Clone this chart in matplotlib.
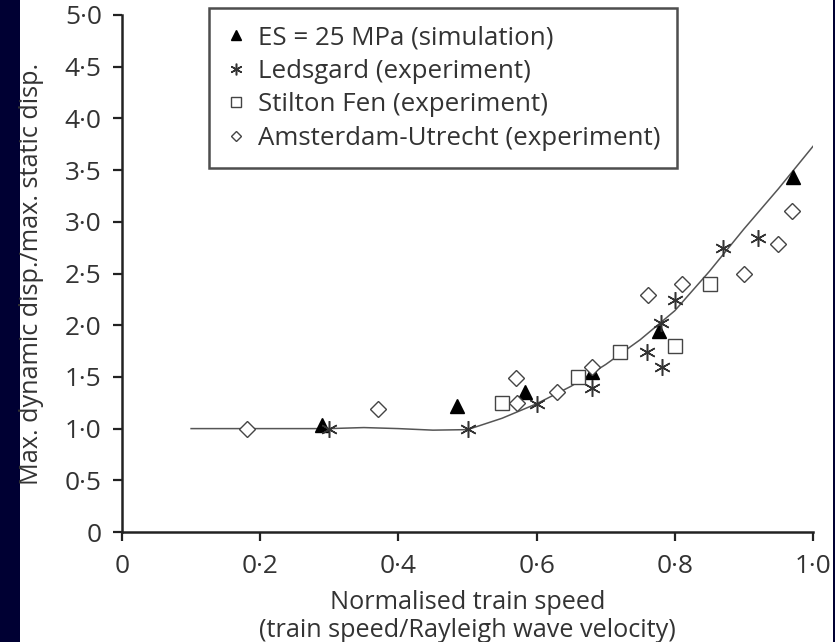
import matplotlib
matplotlib.use("Agg")
import matplotlib.pyplot as plt
from matplotlib.patches import Rectangle

# ── Data ────────────────────────────────────────────────────
sim_x = [0.29, 0.485, 0.583, 0.68, 0.777, 0.971]
sim_y = [1.03, 1.22, 1.35, 1.55, 1.94, 3.43]

led_x = [0.30, 0.50, 0.60, 0.68, 0.76, 0.781, 0.78, 0.80, 0.87, 0.92]
led_y = [1.00, 1.00, 1.24, 1.39, 1.74, 1.60, 2.02, 2.24, 2.75, 2.84]

stil_x = [0.55, 0.66, 0.72, 0.80, 0.851]
stil_y = [1.25, 1.50, 1.74, 1.80, 2.40]

ams_x = [0.181, 0.371, 0.570, 0.571, 0.63, 0.68, 0.761, 0.81, 0.90, 0.95, 0.97]
ams_y = [1.00, 1.19, 1.49, 1.25, 1.35, 1.60, 2.29, 2.40, 2.50, 2.79, 3.10]

curve_x = [0.10, 0.20, 0.30, 0.35, 0.40, 0.45, 0.50, 0.55, 0.60, 0.65,
           0.70, 0.75, 0.80, 0.85, 0.90, 0.95, 1.00]
curve_y = [1.00, 1.00, 1.00, 1.01, 1.00, 0.985, 0.99, 1.10, 1.24, 1.41,
           1.62, 1.86, 2.14, 2.52, 2.93, 3.32, 3.73]

xticks = [0, 0.2, 0.4, 0.6, 0.8, 1.0]
xtick_labels = ["0", "0·2", "0·4", "0·6", "0·8", "1·0"]
yticks = [0, 0.5, 1.0, 1.5, 2.0, 2.5, 3.0, 3.5, 4.0, 4.5, 5.0]
ytick_labels = ["0", "0·5", "1·0", "1·5", "2·0", "2·5", "3·0", "3·5",
                "4·0", "4·5", "5·0"]

# ── Style ───────────────────────────────────────────────────
NAVY = "#000033"
TXT = "#333333"
EDGE = "#222222"
plt.rcParams["font.family"] = ["Open Sans", "DejaVu Sans"]

fig = plt.figure(figsize=(8.35, 6.42), dpi=100)
fig.patch.set_facecolor("white")
# slide background strips at the edges
fig.patches.append(Rectangle((0, 0), 20 / 835, 1, transform=fig.transFigure,
                             facecolor=NAVY, edgecolor="none", zorder=-5))
fig.patches.append(Rectangle((833 / 835, 0), 2 / 835, 1, transform=fig.transFigure,
                             facecolor=NAVY, edgecolor="none", zorder=-5))

ax = fig.add_axes([122 / 835, 1 - 532 / 642, 691 / 835, 517 / 642])
ax.set_xlim(0, 1.0)
ax.set_ylim(0, 5.0)

ax.plot(curve_x, curve_y, color="#555555", lw=1.1, zorder=2)
ax.plot(sim_x, sim_y, ls="none", marker="^", ms=10, color="black",
        label="ES = 25 MPa (simulation)", zorder=3)
ax.plot(led_x, led_y, ls="none", marker=(6, 2, 0), ms=12, mew=1.1,
        color="#333333", label="Ledsgard (experiment)", zorder=3)
ax.plot(stil_x, stil_y, ls="none", marker="s", ms=9.6, mew=1.0,
        mfc="white", mec="#444444", label="Stilton Fen (experiment)", zorder=3)
ax.plot(ams_x, ams_y, ls="none", marker="D", ms=8, mew=1.0,
        mfc="white", mec="#444444", label="Amsterdam-Utrecht (experiment)", zorder=3)

for s in ["top", "right"]:
    ax.spines[s].set_visible(False)
for s in ["left", "bottom"]:
    ax.spines[s].set_linewidth(1.8)
    ax.spines[s].set_color(EDGE)

ax.set_xticks(xticks)
ax.set_xticklabels(xtick_labels)
ax.set_yticks(yticks)
ax.set_yticklabels(ytick_labels)
ax.tick_params(direction="out", length=6.5, width=1.6, color=EDGE,
               labelsize=18.9, labelcolor=TXT)
ax.tick_params(axis="x", pad=9)
ax.tick_params(axis="y", pad=8)

ax.set_xlabel("Normalised train speed\n(train speed/Rayleigh wave velocity)",
              fontsize=18.2, color=TXT, linespacing=1.15)
ax.xaxis.set_label_coords(0.5, -0.112)
fig.text(32 / 835, 1 - 274 / 642, "Max. dynamic disp./max. static disp.",
         rotation=90, ha="center", va="center", fontsize=18.2, color=TXT)

leg = ax.legend(loc="upper left", bbox_to_anchor=(0.126, 1.0135),
                frameon=True, fancybox=False, fontsize=18.6, markerscale=0.7,
                handlelength=0.8, handletextpad=0.42, borderpad=0.66,
                labelspacing=0.33, borderaxespad=0)
leg.get_frame().set_edgecolor(EDGE)
leg.get_frame().set_linewidth(1.8)
for t in leg.get_texts():
    t.set_color(TXT)

fig.savefig("out.png", dpi=100, facecolor=fig.get_facecolor())
